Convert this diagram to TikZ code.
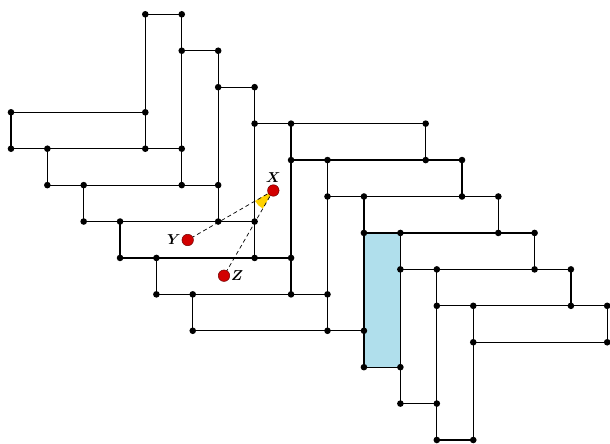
\documentclass[tikz,border=0pt]{standalone}
\usetikzlibrary{calc}
\definecolor{cellblue}{RGB}{176,223,236}
\definecolor{ptred}{RGB}{210,0,0}
\definecolor{ptedge}{RGB}{110,0,0}
\definecolor{wedgeyellow}{RGB}{255,210,0}
\begin{document}
\begin{tikzpicture}[x=1pt,y=-1pt,
  edge/.style={line width=1.2pt,line cap=round},
  sight/.style={line width=0.7pt,dash pattern=on 4pt off 3pt},
  reddot/.style={circle,fill=ptred,draw=ptedge,line width=0.5pt,inner sep=0pt,minimum size=11.5pt},
  lbl/.style={inner sep=1pt,font=\Large\boldmath}]
\useasboundingbox (0,0) rectangle (610,444);
% grid coordinates
\foreach \i in {0,...,9}{\foreach \j in {0,...,9}{
  \coordinate (a\i-\j) at ({145.3+36.44*\i},{14.3+36.44*\j});
  \coordinate (ab\i-\j) at ({145.3+36.44*\i},{112.3+36.41*\j});
}}
\foreach \i in {0,...,5}{\foreach \j in {0,...,9}{
  \coordinate (bb\i-\j) at ({11+36.35*\i},{112.3+36.41*\j});
  \coordinate (ca\i-\j) at ({425.7+36.3*\i},{14.3+36.44*\j});
}}
% shaded cell
\fill[cellblue] (a6-6) rectangle (ab7-7);
% horizontal edges (A rows)
\draw[edge] (a0-0)--(a1-0) (a1-1)--(a2-1) (a2-2)--(a3-2);
\foreach \j in {3,...,8}{\pgfmathtruncatemacro\k{\j-3}\draw[edge] (a\j-\j)--(ca\k-\j);}
\draw[edge] (a9-9)--(ca5-9);
% horizontal edges (B rows)
\draw[edge] (bb0-0)--(ab0-0);
\foreach \j in {1,...,6}{\pgfmathtruncatemacro\k{\j-1}\draw[edge] (bb\k-\j)--(ab\j-\j);}
\draw[edge] (ab6-7)--(ab7-7) (ab7-8)--(ab8-8) (ab8-9)--(ab9-9);
% vertical edges
\draw[edge] (a0-0)--(ab0-1);
\foreach \i in {1,...,8}{\pgfmathtruncatemacro\p{\i-1}\pgfmathtruncatemacro\q{\i+1}\draw[edge] (a\i-\p)--(ab\i-\q);}
\draw[edge] (a9-8)--(ab9-9);
\foreach \i in {0,...,5}{\pgfmathtruncatemacro\q{\i+1}\draw[edge] (bb\i-\i)--(bb\i-\q);}
\foreach \i in {0,...,5}{\pgfmathtruncatemacro\p{\i+3}\pgfmathtruncatemacro\q{\i+4}\draw[edge] (ca\i-\p)--(ca\i-\q);}
% vertices
\foreach \c in {a0-0,a1-0,a1-1,a2-1,a2-2,a3-2,
  a3-3,a4-3,ca0-3, a4-4,a5-4,ca0-4,ca1-4, a5-5,a6-5,ca1-5,ca2-5,
  a6-6,a7-6,ca2-6,ca3-6, a7-7,a8-7,ca3-7,ca4-7, a8-8,a9-8,ca4-8,ca5-8, a9-9,ca5-9,
  bb0-0,ab0-0, bb0-1,bb1-1,ab0-1,ab1-1, bb1-2,bb2-2,ab1-2,ab2-2,
  bb2-3,bb3-3,ab2-3,ab3-3, bb3-4,bb4-4,ab3-4,ab4-4, bb4-5,bb5-5,ab4-5,ab5-5,
  bb5-6,ab5-6,ab6-6, ab6-7,ab7-7, ab7-8,ab8-8, ab8-9,ab9-9}
  \fill (\c) circle (3.3pt);
% guards
\coordinate (Xc) at (273.3,190.5);
\coordinate (Yc) at (187.7,240);
\coordinate (Zc) at (224,275.7);
\fill[wedgeyellow] (Xc) -- ++(209.8:21pt) arc[start angle=209.8,end angle=239.8,radius=21pt] -- cycle;
\draw[sight] (Xc) -- (Yc);
\draw[sight] (Xc) -- (Zc);
\node[reddot] (X) at (Xc) {};
\node[reddot] (Y) at (Yc) {};
\node[reddot] (Z) at (Zc) {};
\node[lbl,above=0.5pt] (Xl) at (X.north) {$X$};
\node[lbl,left=0pt] (Yl) at (Y.west) {$Y$};
\node[lbl,right=0pt] (Zl) at (Z.east) {$Z$};
\end{tikzpicture}
\end{document}
